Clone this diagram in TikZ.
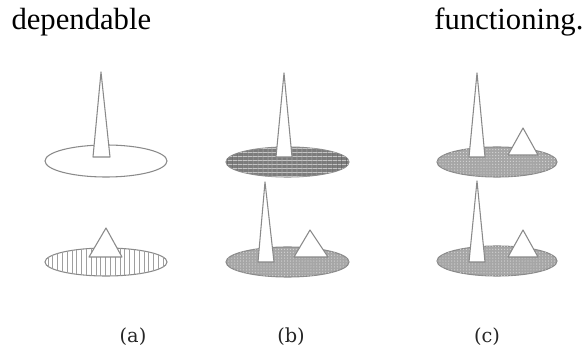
\documentclass[tikz,border=0pt]{standalone}
\usepackage{fontspec}
\setmainfont{Liberation Serif}
\newfontfamily\capfont{DejaVu Serif}
\usetikzlibrary{patterns, patterns.meta}
\definecolor{cline}{HTML}{8A8A8A}
\definecolor{cdisc}{HTML}{A6A6A6}
\definecolor{cgrid}{HTML}{7C7C7C}
\tikzset{
  every picture/.style={line width=0.8pt},
  disc/.style={draw=cline, fill=white},
  hatchdisc/.style={draw=cline, fill=white, postaction={pattern={Lines[angle=90, distance=3.6pt, line width=0.6pt]}, pattern color=gray!75}},
  griddisc/.style={draw=cline, fill=cgrid, postaction={pattern={Lines[angle=0, distance=3pt, line width=0.5pt]}, pattern color=white!55!cgrid}, postaction={pattern={Lines[angle=90, distance=4pt, line width=0.6pt]}, pattern color=black!65}},
  dotdisc/.style={draw=cline, fill=cdisc, postaction={pattern={Dots[distance=2.2pt, radius=0.45pt]}, pattern color=white!55!cdisc}},
  spike/.style={draw=cline, fill=white, line join=round},
  word/.style={font=\fontsize{23}{27}\selectfont, inner sep=0pt},
  figlabel/.style={font=\capfont\fontsize{14.5}{17}\selectfont, text=black!85, inner sep=0pt},
}

\begin{document}
\begin{tikzpicture}[x=0.75pt, y=-0.75pt]
  \useasboundingbox (0,0) rectangle (586,352);
  % running text above the figure
  \node[word, anchor=base west] (w1) at (11,30) {dependable};
  \node[word, anchor=base east] (w2) at (584,30) {functioning.};

  % (a)
  \draw[disc] (106,161) ellipse [x radius=61, y radius=16];
  \draw[spike] (93,157) -- (101,72) -- (110,157) -- cycle;
  \draw[hatchdisc] (106,262) ellipse [x radius=61, y radius=14];
  \draw[spike] (89,257) -- (106,228) -- (122,257) -- cycle;

  % (b)
  \draw[griddisc] (287.5,162) ellipse [x radius=61.5, y radius=15];
  \draw[spike] (276,157) -- (284,73) -- (292,157) -- cycle;
  \draw[dotdisc] (287.5,262) ellipse [x radius=61.5, y radius=15];
  \draw[spike] (258,262) -- (265,182) -- (274,262) -- cycle;
  \draw[spike] (294,257) -- (310,230) -- (328,257) -- cycle;

  % (c)
  \draw[dotdisc] (497,162) ellipse [x radius=60, y radius=15];
  \draw[spike] (469,157) -- (477,73) -- (485,157) -- cycle;
  \draw[spike] (508,155) -- (523,128) -- (538,155) -- cycle;
  \draw[dotdisc] (497,261) ellipse [x radius=60, y radius=15];
  \draw[spike] (469,262) -- (477,181) -- (485,262) -- cycle;
  \draw[spike] (508,257) -- (523,230) -- (538,257) -- cycle;

  \node[figlabel] (la) at (133,337) {(a)};
  \node[figlabel] (lb) at (291,337) {(b)};
  \node[figlabel] (lc) at (487,337) {(c)};
\end{tikzpicture}
\end{document}
